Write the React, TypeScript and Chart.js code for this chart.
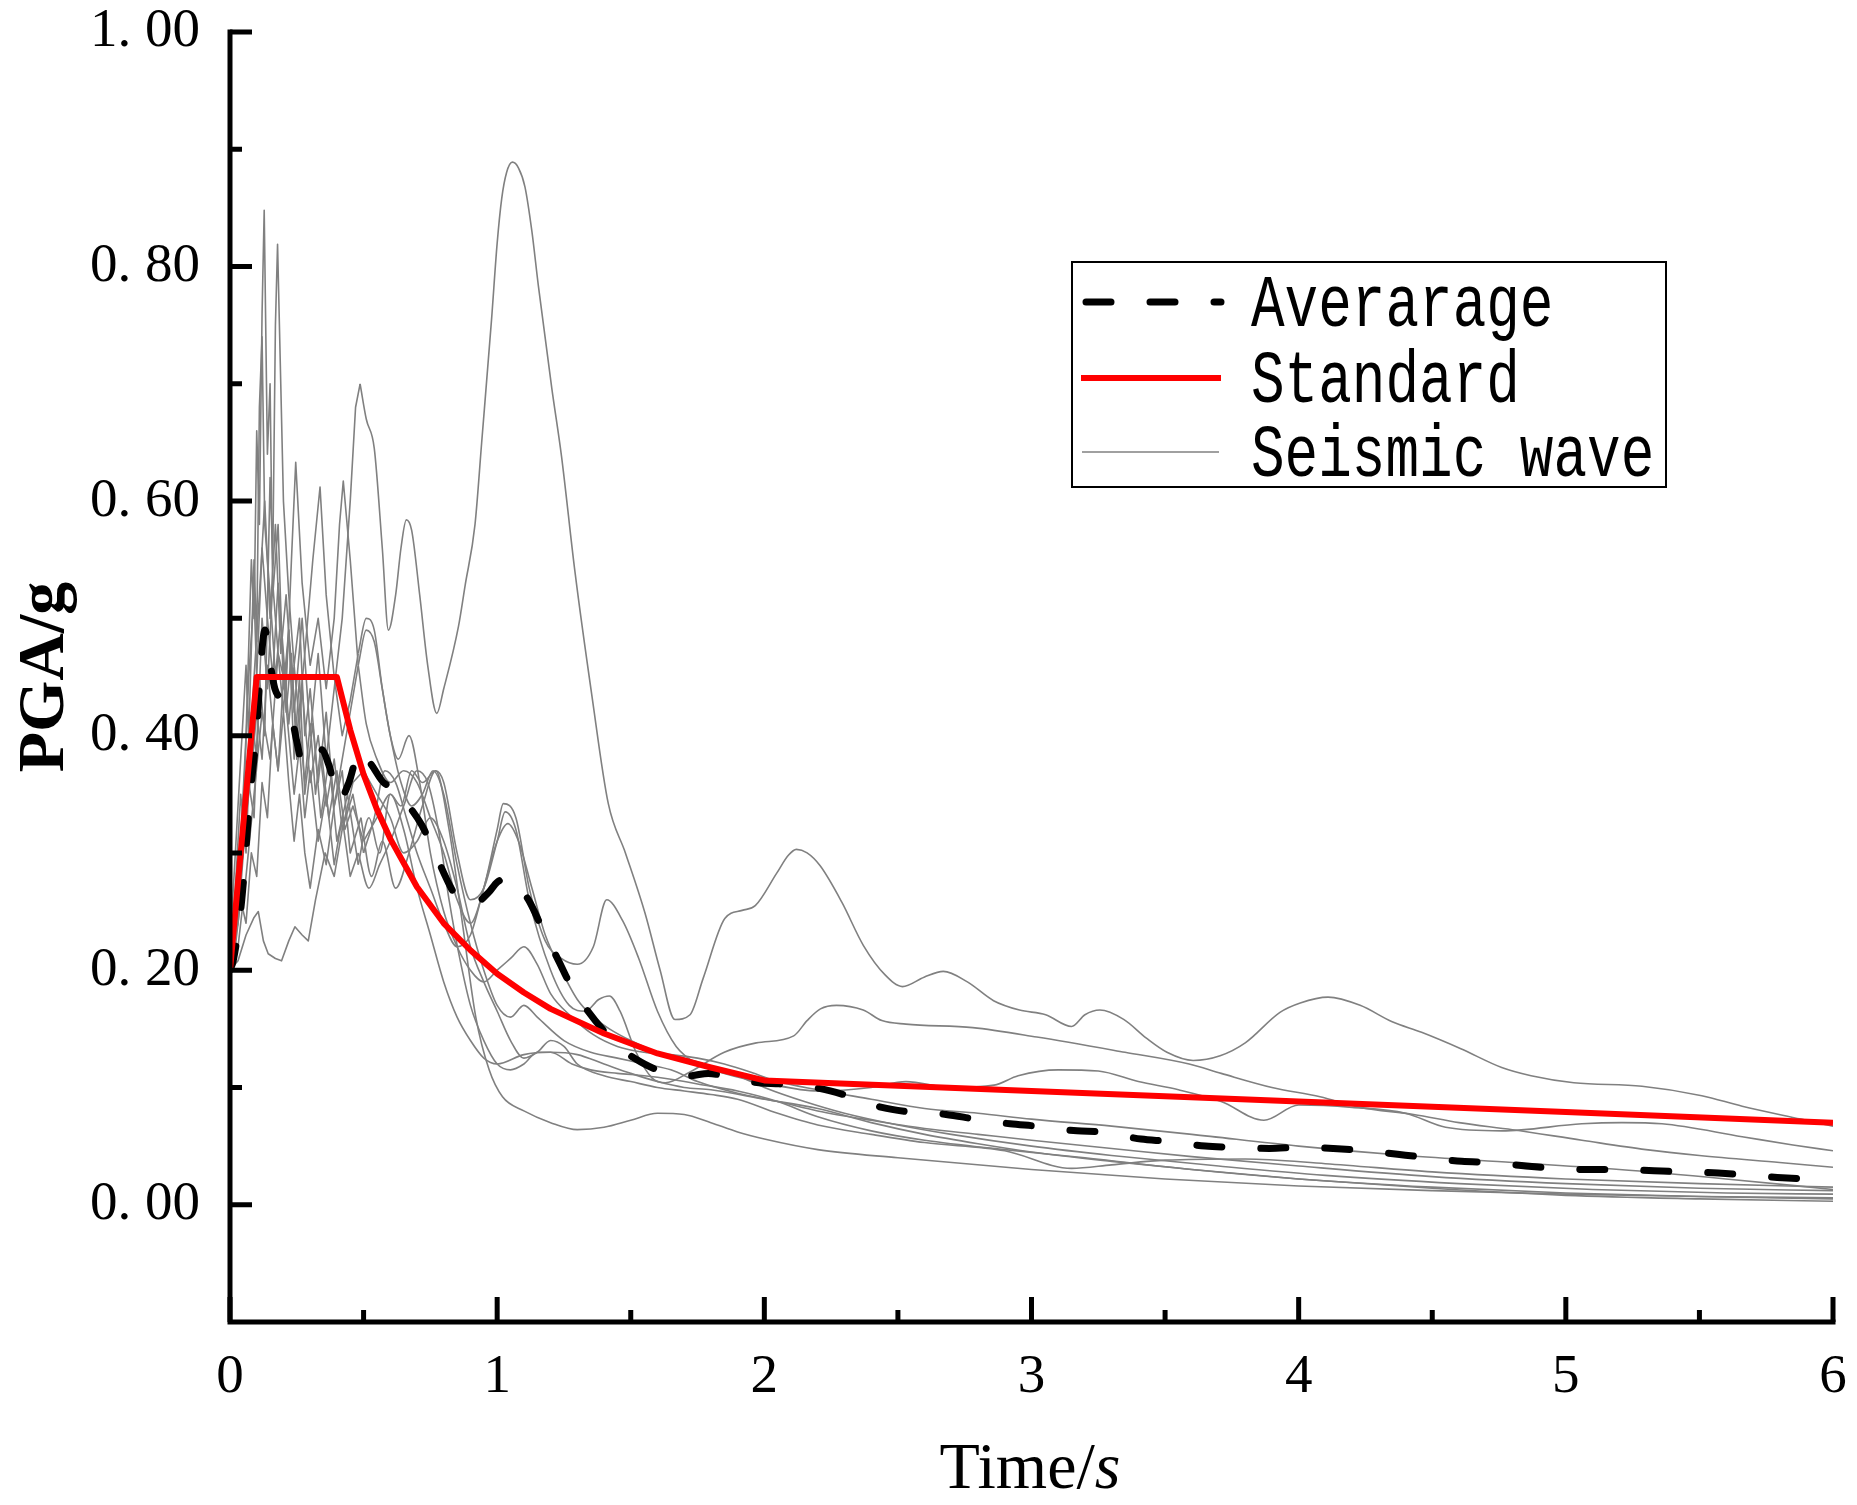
import React, { useEffect, useRef } from "react";
import { Chart, registerables } from "chart.js";

Chart.register(...registerables);

type Pt = [number, number];

// axis ticks
const xMajorTicks = [0, 1, 2, 3, 4, 5, 6];
const xMinorTicks = [0.5, 1.5, 2.5, 3.5, 4.5, 5.5];
const yMajorTicks = [0, 0.2, 0.4, 0.6, 0.8, 1.0];
const yMinorTicks = [0.1, 0.3, 0.5, 0.7, 0.9];

// code design spectrum (red)
const standardTime = [0, 0.1, 0.4, 0.45, 0.5, 0.55, 0.6, 0.7, 0.8, 0.9, 1.0, 1.1, 1.2, 1.4, 1.6, 1.8, 2.0, 3.0, 4.0, 5.0, 6.0];
const standardPga = [0.2, 0.45, 0.45, 0.405, 0.367, 0.337, 0.312, 0.271, 0.24, 0.217, 0.197, 0.181, 0.167, 0.146, 0.129, 0.117, 0.106, 0.097, 0.088, 0.079, 0.07];

// mean spectrum (black dashed)
const averageCurve: Pt[] = [
  [0, 0.2], [0.012, 0.208], [0.044, 0.26], [0.075, 0.348], [0.1, 0.405], [0.115, 0.46], [0.131, 0.49],
  [0.15, 0.462], [0.168, 0.44], [0.2, 0.43], [0.23, 0.417], [0.25, 0.395], [0.274, 0.374], [0.3, 0.378],
  [0.343, 0.388], [0.37, 0.375], [0.41, 0.345], [0.445, 0.36], [0.487, 0.388], [0.53, 0.375],
  [0.58, 0.359], [0.62, 0.356], [0.66, 0.343], [0.717, 0.324], [0.77, 0.298], [0.83, 0.269],
  [0.855, 0.26], [0.9, 0.255], [0.967, 0.266], [1.0, 0.275], [1.05, 0.279], [1.117, 0.26],
  [1.17, 0.235], [1.23, 0.208], [1.28, 0.185], [1.34, 0.165], [1.4, 0.148], [1.453, 0.135],
  [1.52, 0.124], [1.6, 0.115], [1.72, 0.11], [1.79, 0.112], [1.88, 0.108], [1.98, 0.104],
  [2.06, 0.103], [2.21, 0.099], [2.31, 0.093], [2.44, 0.083], [2.55, 0.079], [2.68, 0.077],
  [2.79, 0.073], [2.92, 0.069], [3.02, 0.067], [3.17, 0.063], [3.26, 0.062], [3.41, 0.056],
  [3.51, 0.054], [3.65, 0.05], [3.75, 0.049], [3.89, 0.048], [4.01, 0.049], [4.13, 0.048],
  [4.25, 0.046], [4.37, 0.043], [4.49, 0.04], [4.61, 0.037], [4.73, 0.036], [4.85, 0.033],
  [4.97, 0.031], [5.09, 0.03], [5.21, 0.03], [5.33, 0.029], [5.45, 0.028], [5.57, 0.027],
  [5.7, 0.025], [5.81, 0.023], [5.95, 0.022], [6.0, 0.022],
];

// individual seismic wave spectra (grey)
const wave1: Pt[] = [
  [0, 0.21], [0.03, 0.26], [0.06, 0.33], [0.09, 0.45], [0.11, 0.52], [0.13, 0.6], [0.15, 0.5],
  [0.17, 0.58], [0.19, 0.47], [0.21, 0.52], [0.24, 0.42], [0.27, 0.5], [0.3, 0.4], [0.33, 0.47],
  [0.36, 0.38], [0.39, 0.44], [0.42, 0.5], [0.45, 0.6], [0.47, 0.68], [0.487, 0.7], [0.51, 0.67],
  [0.54, 0.645], [0.57, 0.56], [0.593, 0.49], [0.62, 0.52], [0.64, 0.56], [0.66, 0.584],
  [0.68, 0.575], [0.71, 0.52], [0.74, 0.46], [0.774, 0.419], [0.8, 0.44], [0.855, 0.493],
  [0.88, 0.528], [0.917, 0.58], [0.942, 0.65], [0.979, 0.755], [1.0, 0.82], [1.017, 0.858],
  [1.035, 0.88], [1.057, 0.889], [1.08, 0.884], [1.104, 0.868], [1.13, 0.83], [1.154, 0.784],
  [1.204, 0.697], [1.241, 0.638], [1.291, 0.54], [1.354, 0.435], [1.416, 0.342], [1.48, 0.3],
  [1.553, 0.249], [1.61, 0.2], [1.665, 0.158], [1.722, 0.162], [1.771, 0.193], [1.852, 0.244],
  [1.917, 0.251], [1.966, 0.255], [2.047, 0.283], [2.09, 0.298], [2.12, 0.303], [2.16, 0.3],
  [2.209, 0.289], [2.29, 0.258], [2.371, 0.221], [2.452, 0.196], [2.517, 0.186], [2.598, 0.194],
  [2.67, 0.199], [2.76, 0.19], [2.858, 0.174], [2.955, 0.166], [3.053, 0.162], [3.15, 0.152],
  [3.2, 0.162], [3.256, 0.166], [3.345, 0.158], [3.43, 0.142], [3.507, 0.13], [3.605, 0.123],
  [3.706, 0.127], [3.8, 0.138], [3.93, 0.164], [4.006, 0.172], [4.11, 0.177], [4.23, 0.17],
  [4.35, 0.156], [4.46, 0.147], [4.607, 0.133], [4.76, 0.117], [4.87, 0.11], [5.03, 0.104],
  [5.285, 0.101], [5.509, 0.093], [5.66, 0.084], [5.88, 0.073], [6.0, 0.067],
];
const wave2: Pt[] = [
  [0, 0.2], [0.02, 0.25], [0.04, 0.31], [0.06, 0.4], [0.08, 0.55], [0.09, 0.5], [0.1, 0.66],
  [0.11, 0.58], [0.12, 0.76], [0.128, 0.848], [0.14, 0.64], [0.15, 0.7], [0.16, 0.52], [0.18, 0.58],
  [0.2, 0.44], [0.22, 0.49], [0.24, 0.38], [0.26, 0.45], [0.28, 0.35], [0.31, 0.41], [0.34, 0.33],
  [0.37, 0.38], [0.4, 0.31], [0.44, 0.35], [0.48, 0.29], [0.52, 0.33], [0.56, 0.3], [0.6, 0.35],
  [0.64, 0.34], [0.68, 0.37], [0.72, 0.36], [0.77, 0.37], [0.82, 0.32], [0.87, 0.24], [0.92, 0.16],
  [0.97, 0.115], [1.02, 0.092], [1.1, 0.08], [1.2, 0.07], [1.3, 0.064], [1.4, 0.066], [1.5, 0.072],
  [1.6, 0.078], [1.7, 0.077], [1.8, 0.07], [1.9, 0.062], [2.0, 0.056], [2.2, 0.047], [2.5, 0.04],
  [3.0, 0.03], [3.5, 0.022], [4.0, 0.016], [4.5, 0.012], [5.0, 0.009], [5.5, 0.007], [6.0, 0.005],
];
const wave3: Pt[] = [
  [0, 0.21], [0.03, 0.24], [0.05, 0.3], [0.07, 0.36], [0.09, 0.33], [0.11, 0.45], [0.13, 0.4],
  [0.15, 0.62], [0.16, 0.55], [0.17, 0.75], [0.178, 0.819], [0.19, 0.7], [0.2, 0.6], [0.22, 0.52],
  [0.24, 0.46], [0.26, 0.5], [0.28, 0.4], [0.3, 0.44], [0.33, 0.36], [0.36, 0.42], [0.39, 0.34],
  [0.42, 0.37], [0.45, 0.3], [0.49, 0.33], [0.53, 0.28], [0.57, 0.31], [0.62, 0.27], [0.67, 0.3],
  [0.72, 0.34], [0.77, 0.37], [0.8, 0.36], [0.85, 0.3], [0.9, 0.26], [0.95, 0.27], [1.0, 0.31],
  [1.03, 0.335], [1.07, 0.32], [1.12, 0.26], [1.2, 0.2], [1.27, 0.17], [1.33, 0.165], [1.38, 0.175],
  [1.42, 0.178], [1.46, 0.165], [1.52, 0.13], [1.58, 0.108], [1.63, 0.104], [1.72, 0.113],
  [1.85, 0.13], [1.97, 0.138], [2.11, 0.144], [2.16, 0.157], [2.21, 0.167], [2.27, 0.17],
  [2.37, 0.166], [2.44, 0.157], [2.53, 0.154], [2.78, 0.151], [3.02, 0.143], [3.35, 0.13],
  [3.59, 0.12], [3.71, 0.112], [3.9, 0.1], [4.08, 0.092], [4.23, 0.083], [4.43, 0.077], [4.6, 0.07],
  [4.8, 0.064], [5.06, 0.055], [5.3, 0.047], [5.5, 0.042], [5.8, 0.036], [6.0, 0.032],
];
const wave4: Pt[] = [
  [0, 0.2], [0.03, 0.22], [0.06, 0.28], [0.09, 0.35], [0.12, 0.42], [0.15, 0.38], [0.18, 0.47],
  [0.21, 0.44], [0.23, 0.55], [0.246, 0.633], [0.27, 0.53], [0.3, 0.46], [0.33, 0.5], [0.36, 0.44],
  [0.39, 0.5], [0.41, 0.58], [0.424, 0.617], [0.45, 0.55], [0.48, 0.46], [0.51, 0.41], [0.55, 0.38],
  [0.6, 0.36], [0.65, 0.37], [0.7, 0.36], [0.75, 0.33], [0.8, 0.3], [0.85, 0.26], [0.9, 0.24],
  [0.95, 0.27], [1.0, 0.32], [1.023, 0.342], [1.07, 0.33], [1.12, 0.27], [1.18, 0.225],
  [1.24, 0.21], [1.3, 0.205], [1.36, 0.22], [1.41, 0.26], [1.47, 0.242], [1.53, 0.21], [1.6, 0.165],
  [1.67, 0.135], [1.75, 0.12], [1.85, 0.112], [2.0, 0.104], [2.2, 0.097], [2.4, 0.1], [2.53, 0.105],
  [2.7, 0.1], [2.86, 0.102], [2.95, 0.11], [3.1, 0.115], [3.25, 0.114], [3.4, 0.105], [3.55, 0.098],
  [3.71, 0.088], [3.87, 0.072], [4.0, 0.085], [4.2, 0.083], [4.4, 0.078], [4.55, 0.066],
  [4.76, 0.063], [5.06, 0.069], [5.21, 0.07], [5.36, 0.069], [5.66, 0.058], [5.85, 0.051], [6.0, 0.046],
];
const wave5: Pt[] = [
  [0, 0.21], [0.02, 0.27], [0.04, 0.35], [0.06, 0.3], [0.08, 0.42], [0.1, 0.38], [0.12, 0.5],
  [0.14, 0.44], [0.16, 0.53], [0.18, 0.47], [0.2, 0.42], [0.22, 0.49], [0.25, 0.4], [0.28, 0.47],
  [0.31, 0.55], [0.337, 0.612], [0.36, 0.52], [0.39, 0.45], [0.42, 0.4], [0.45, 0.43], [0.48, 0.47],
  [0.51, 0.5], [0.54, 0.49], [0.57, 0.44], [0.6, 0.4], [0.64, 0.36], [0.68, 0.34], [0.72, 0.35],
  [0.76, 0.37], [0.8, 0.35], [0.85, 0.29], [0.9, 0.24], [0.95, 0.2], [1.0, 0.17], [1.05, 0.16],
  [1.1, 0.17], [1.15, 0.16], [1.25, 0.14], [1.35, 0.13], [1.45, 0.125], [1.55, 0.12], [1.65, 0.115],
  [1.75, 0.105], [1.9, 0.095], [2.05, 0.088], [2.2, 0.08], [2.4, 0.072], [2.6, 0.065], [2.8, 0.06],
  [3.0, 0.055], [3.3, 0.048], [3.6, 0.041], [4.0, 0.033], [4.5, 0.024], [5.0, 0.018], [5.5, 0.014],
  [6.0, 0.012],
];
const wave6: Pt[] = [
  [0, 0.2], [0.03, 0.208], [0.06, 0.23], [0.09, 0.245], [0.106, 0.25], [0.125, 0.225],
  [0.143, 0.214], [0.17, 0.21], [0.193, 0.208], [0.22, 0.225], [0.243, 0.237], [0.27, 0.23],
  [0.293, 0.225], [0.32, 0.26], [0.356, 0.3], [0.39, 0.28], [0.42, 0.32], [0.46, 0.36], [0.5, 0.37],
  [0.55, 0.35], [0.6, 0.33], [0.65, 0.3], [0.7, 0.31], [0.75, 0.33], [0.8, 0.31], [0.85, 0.27],
  [0.9, 0.22], [0.95, 0.19], [1.0, 0.165], [1.05, 0.14], [1.1, 0.125], [1.15, 0.13], [1.2, 0.14],
  [1.25, 0.135], [1.3, 0.12], [1.4, 0.11], [1.5, 0.105], [1.6, 0.1], [1.7, 0.097], [1.8, 0.094],
  [1.9, 0.09], [2.05, 0.078], [2.2, 0.068], [2.4, 0.06], [2.6, 0.053], [2.9, 0.046], [3.15, 0.031],
  [3.3, 0.034], [3.5, 0.038], [3.8, 0.039], [4.1, 0.035], [4.5, 0.028], [5.0, 0.022], [5.5, 0.018],
  [6.0, 0.015],
];
const wave7: Pt[] = [
  [0, 0.2], [0.02, 0.22], [0.04, 0.26], [0.06, 0.24], [0.08, 0.3], [0.1, 0.28], [0.12, 0.36],
  [0.14, 0.33], [0.16, 0.41], [0.18, 0.37], [0.2, 0.45], [0.22, 0.4], [0.24, 0.35], [0.26, 0.39],
  [0.28, 0.33], [0.3, 0.37], [0.33, 0.31], [0.36, 0.35], [0.39, 0.29], [0.42, 0.33], [0.45, 0.28],
  [0.48, 0.3], [0.52, 0.27], [0.56, 0.29], [0.6, 0.31], [0.65, 0.34], [0.7, 0.37], [0.74, 0.36],
  [0.78, 0.32], [0.82, 0.26], [0.86, 0.21], [0.9, 0.17], [0.95, 0.14], [1.0, 0.12], [1.05, 0.115],
  [1.1, 0.12], [1.15, 0.13], [1.2, 0.13], [1.28, 0.12], [1.35, 0.115], [1.45, 0.112], [1.55, 0.11],
  [1.65, 0.107], [1.75, 0.103], [1.9, 0.097], [2.05, 0.088], [2.2, 0.075], [2.4, 0.063],
  [2.6, 0.055], [2.9, 0.047], [3.2, 0.04], [3.6, 0.03], [4.0, 0.022], [4.5, 0.015], [5.0, 0.01],
  [5.5, 0.007], [6.0, 0.006],
];
const wave8: Pt[] = [
  [0, 0.22], [0.02, 0.3], [0.04, 0.38], [0.06, 0.46], [0.07, 0.4], [0.09, 0.55], [0.1, 0.48],
  [0.11, 0.68], [0.12, 0.74], [0.13, 0.58], [0.15, 0.52], [0.17, 0.45], [0.19, 0.5], [0.21, 0.42],
  [0.23, 0.47], [0.25, 0.38], [0.27, 0.44], [0.3, 0.36], [0.33, 0.4], [0.36, 0.34], [0.39, 0.38],
  [0.42, 0.32], [0.46, 0.35], [0.5, 0.3], [0.54, 0.33], [0.58, 0.37], [0.62, 0.36], [0.66, 0.33],
  [0.7, 0.3], [0.75, 0.27], [0.8, 0.24], [0.85, 0.22], [0.9, 0.23], [0.95, 0.27], [1.0, 0.31],
  [1.04, 0.325], [1.08, 0.31], [1.13, 0.27], [1.18, 0.23], [1.24, 0.2], [1.3, 0.175], [1.36, 0.16],
  [1.42, 0.15], [1.5, 0.14], [1.6, 0.13], [1.7, 0.125], [1.8, 0.118], [1.9, 0.11], [2.0, 0.1],
  [2.15, 0.088], [2.3, 0.078], [2.5, 0.068], [2.7, 0.06], [3.0, 0.05], [3.3, 0.042], [3.7, 0.033],
  [4.1, 0.025], [4.6, 0.018], [5.1, 0.013], [5.6, 0.01], [6.0, 0.009],
];
const wave9: Pt[] = [
  [0, 0.2], [0.03, 0.25], [0.05, 0.34], [0.07, 0.45], [0.09, 0.52], [0.1, 0.45], [0.12, 0.56],
  [0.14, 0.5], [0.16, 0.45], [0.18, 0.53], [0.2, 0.47], [0.22, 0.41], [0.24, 0.46], [0.26, 0.41],
  [0.28, 0.36], [0.3, 0.41], [0.32, 0.35], [0.34, 0.39], [0.37, 0.33], [0.4, 0.37], [0.43, 0.32],
  [0.46, 0.34], [0.5, 0.31], [0.55, 0.33], [0.6, 0.35], [0.65, 0.32], [0.7, 0.27], [0.75, 0.23],
  [0.8, 0.19], [0.85, 0.16], [0.9, 0.14], [0.95, 0.125], [1.0, 0.12], [1.1, 0.128], [1.2, 0.13],
  [1.3, 0.128], [1.4, 0.12], [1.5, 0.112], [1.6, 0.105], [1.7, 0.1], [1.8, 0.098], [2.0, 0.09],
  [2.2, 0.082], [2.4, 0.07], [2.6, 0.06], [2.8, 0.052], [3.0, 0.045], [3.3, 0.037], [3.6, 0.03],
  [4.0, 0.022], [4.5, 0.014], [5.0, 0.008], [5.5, 0.005], [6.0, 0.003],
];
const wave10: Pt[] = [
  [0, 0.2], [0.02, 0.23], [0.04, 0.28], [0.06, 0.33], [0.08, 0.37], [0.1, 0.42], [0.12, 0.38],
  [0.14, 0.46], [0.16, 0.41], [0.18, 0.37], [0.2, 0.42], [0.22, 0.36], [0.24, 0.31], [0.26, 0.35],
  [0.28, 0.3], [0.3, 0.27], [0.33, 0.32], [0.36, 0.29], [0.39, 0.34], [0.42, 0.38], [0.45, 0.42],
  [0.48, 0.46], [0.51, 0.49], [0.54, 0.48], [0.57, 0.44], [0.6, 0.4], [0.63, 0.38], [0.67, 0.4],
  [0.71, 0.36], [0.75, 0.3], [0.8, 0.25], [0.85, 0.22], [0.9, 0.2], [0.95, 0.19], [1.0, 0.2],
  [1.05, 0.21], [1.1, 0.22], [1.15, 0.205], [1.2, 0.18], [1.28, 0.16], [1.36, 0.145], [1.45, 0.135],
  [1.55, 0.13], [1.65, 0.128], [1.75, 0.125], [1.85, 0.12], [1.95, 0.113], [2.05, 0.105],
  [2.2, 0.098], [2.4, 0.09], [2.6, 0.082], [2.8, 0.078], [3.0, 0.073], [3.3, 0.067], [3.6, 0.06],
  [4.0, 0.05], [4.4, 0.042], [4.8, 0.036], [5.2, 0.03], [5.6, 0.022], [6.0, 0.013],
];

const seismicWaves = [wave1, wave2, wave3, wave4, wave5, wave6, wave7, wave8, wave9, wave10];

// spiky short-period part is drawn straight, the rest smoothed
const jaggedUntil = 0.5;

const legendLabels = ["Averarage", "Standard", "Seismic wave"];

const toXY = (pts: Pt[]) => pts.map(([x, y]) => ({ x, y }));

const serif = '"Liberation Serif", "Times New Roman", serif';

const decorPlugin = {
  id: "originDecor",
  afterDatasetsDraw(chart: any) {
    const { ctx, chartArea, scales } = chart;
    const xs = scales.x;
    const ys = scales.y;
    const { left, right, bottom, top } = chartArea;
    ctx.save();
    ctx.strokeStyle = "#000";
    ctx.lineWidth = 5;
    ctx.lineJoin = "miter";
    ctx.lineCap = "butt";
    ctx.beginPath();
    ctx.moveTo(left, top - 2.5);
    ctx.lineTo(left, bottom);
    ctx.lineTo(right + 2.5, bottom);
    ctx.stroke();

    ctx.beginPath();
    yMajorTicks.forEach((v) => {
      const py = ys.getPixelForValue(v);
      ctx.moveTo(left, py);
      ctx.lineTo(left + 22, py);
    });
    yMinorTicks.forEach((v) => {
      const py = ys.getPixelForValue(v);
      ctx.moveTo(left, py);
      ctx.lineTo(left + 12, py);
    });
    xMajorTicks.forEach((v) => {
      const px = xs.getPixelForValue(v);
      ctx.moveTo(px, bottom);
      ctx.lineTo(px, bottom - 25);
    });
    xMinorTicks.forEach((v) => {
      const px = xs.getPixelForValue(v);
      ctx.moveTo(px, bottom);
      ctx.lineTo(px, bottom - 12);
    });
    ctx.stroke();
    ctx.restore();
  },
  afterDraw(chart: any) {
    const { ctx } = chart;
    ctx.save();

    // axis titles
    ctx.fillStyle = "#000";
    ctx.textBaseline = "alphabetic";
    ctx.save();
    ctx.translate(63, 677);
    ctx.rotate(-Math.PI / 2);
    ctx.font = `bold 66px ${serif}`;
    ctx.textAlign = "center";
    ctx.fillText("PGA/g", 0, 0);
    ctx.restore();

    ctx.textAlign = "left";
    ctx.font = `66px ${serif}`;
    const w1 = ctx.measureText("Time/").width;
    ctx.font = `italic 66px ${serif}`;
    const w2 = ctx.measureText("s").width;
    const startX = 1030 - (w1 + w2) / 2;
    ctx.font = `66px ${serif}`;
    ctx.fillText("Time/", startX, 1488);
    ctx.font = `italic 66px ${serif}`;
    ctx.fillText("s", startX + w1, 1488);

    // legend
    const bx = 1072, by = 262, bw = 594, bh = 225;
    ctx.fillStyle = "#fff";
    ctx.fillRect(bx, by, bw, bh);
    ctx.strokeStyle = "#000";
    ctx.lineWidth = 2;
    ctx.strokeRect(bx, by, bw, bh);

    const rows = [302, 378, 452];
    ctx.save();
    ctx.strokeStyle = "#000";
    ctx.lineWidth = 7;
    ctx.lineCap = "round";
    ctx.setLineDash([25, 39]);
    ctx.beginPath();
    ctx.moveTo(1086, rows[0]);
    ctx.lineTo(1221, rows[0]);
    ctx.stroke();
    ctx.restore();

    ctx.strokeStyle = "#ff0000";
    ctx.lineWidth = 6;
    ctx.beginPath();
    ctx.moveTo(1081, rows[1]);
    ctx.lineTo(1221, rows[1]);
    ctx.stroke();

    ctx.strokeStyle = "#808080";
    ctx.lineWidth = 1.6;
    ctx.beginPath();
    ctx.moveTo(1082, rows[2]);
    ctx.lineTo(1219, rows[2]);
    ctx.stroke();

    const baselines = [326, 402, 476];
    ctx.fillStyle = "#000";
    ctx.font = '56px "Liberation Mono", monospace';
    legendLabels.forEach((label, i) => {
      ctx.save();
      ctx.translate(1251, baselines[i]);
      ctx.scale(1, 1.33);
      ctx.fillText(label, 0, 0);
      ctx.restore();
    });
    ctx.restore();
  },
};

function SpectrumChart() {
  const canvasRef = useRef<HTMLCanvasElement | null>(null);
  const chartRef = useRef<Chart | null>(null);

  useEffect(() => {
    if (!canvasRef.current) return;
    const ctx = canvasRef.current.getContext("2d");
    if (!ctx) return;
    if (chartRef.current) chartRef.current.destroy();

    const greyLine = {
      borderColor: "#808080",
      borderWidth: 1.6,
      pointRadius: 0,
      borderJoinStyle: "round" as const,
    };
    const waveSets = seismicWaves.flatMap((w, i) => [
      {
        ...greyLine,
        label: `wave${i + 1}a`,
        data: toXY(w.filter(([t]) => t <= jaggedUntil)),
        tension: 0,
      },
      {
        ...greyLine,
        label: `wave${i + 1}b`,
        data: toXY(w.filter(([t]) => t >= w.filter(([s]) => s <= jaggedUntil).slice(-1)[0][0])),
        cubicInterpolationMode: "monotone" as const,
      },
    ]);

    chartRef.current = new Chart(ctx, {
      type: "line",
      data: {
        datasets: [
          {
            label: "Standard",
            data: standardTime.map((t, i) => ({ x: t, y: standardPga[i] })),
            borderColor: "#ff0000",
            borderWidth: 6,
            pointRadius: 0,
            tension: 0,
            borderJoinStyle: "round",
          },
          {
            label: "Averarage",
            data: toXY(averageCurve),
            borderColor: "#000000",
            borderWidth: 7,
            borderDash: [25, 39],
            borderCapStyle: "round",
            pointRadius: 0,
            cubicInterpolationMode: "monotone",
          },
          ...waveSets,
        ],
      },
      options: {
        animation: false,
        responsive: false,
        devicePixelRatio: 1,
        layout: { padding: { top: 32, right: 24, bottom: 0, left: 0 } },
        plugins: {
          legend: { display: false },
          tooltip: { enabled: false },
        },
        scales: {
          x: {
            type: "linear",
            min: 0,
            max: 6,
            grid: { display: false, drawTicks: false },
            border: { display: false },
            ticks: {
              stepSize: 1,
              autoSkip: false,
              maxRotation: 0,
              padding: 23,
              color: "#000",
              font: { family: serif, size: 55 },
              callback: (v: any) => String(Math.round(Number(v))),
            },
            afterFit: (scale: any) => {
              scale.height = 183;
              scale.paddingLeft = 0;
              scale.paddingRight = 0;
            },
          },
          y: {
            type: "linear",
            min: -0.1,
            max: 1.0,
            grid: { display: false, drawTicks: false },
            border: { display: false },
            ticks: {
              stepSize: 0.1,
              autoSkip: false,
              padding: 30,
              color: "#000",
              font: { family: serif, size: 55 },
              callback: (v: any) => {
                const k = Math.round(Number(v) * 10);
                if (k < 0 || k % 2 !== 0) return "";
                return (k / 10).toFixed(2).replace(".", ". ");
              },
            },
            afterFit: (scale: any) => {
              scale.width = 230;
              scale.paddingTop = 0;
              scale.paddingBottom = 0;
            },
          },
        },
      },
      plugins: [decorPlugin],
    });

    return () => {
      if (chartRef.current) {
        chartRef.current.destroy();
        chartRef.current = null;
      }
    };
  }, []);

  return <canvas ref={canvasRef} width={1857} height={1505} style={{ width: 1857, height: 1505, display: "block" }} />;
}

export default function App() {
  return (
    <div style={{ position: "fixed", left: 0, top: 0, width: 1857, height: 1505, background: "#fff" }}>
      <SpectrumChart />
    </div>
  );
}
